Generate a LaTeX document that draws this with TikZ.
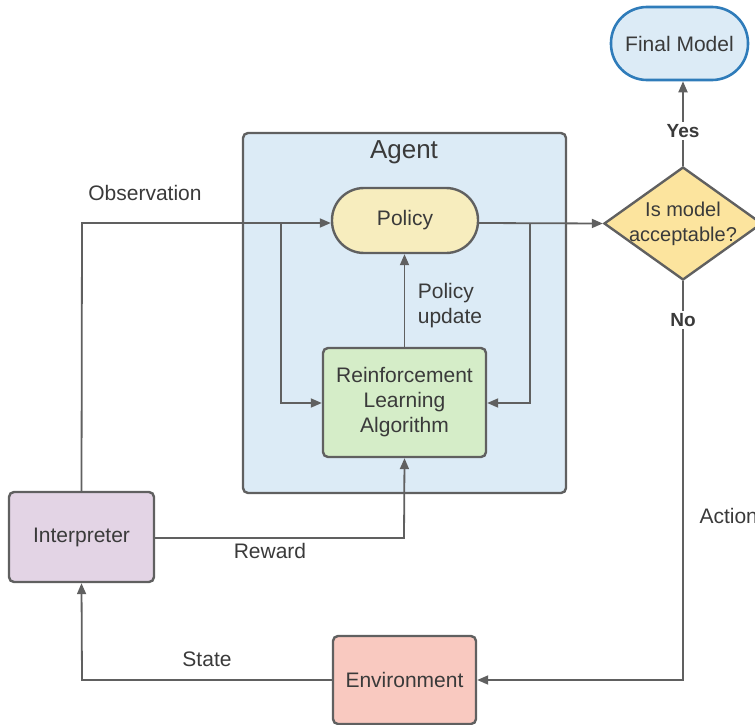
\documentclass[tikz,border=0pt]{standalone}
\usepackage{fontspec}
\setmainfont{Liberation Sans}
\usetikzlibrary{arrows.meta,shapes.geometric}
\definecolor{ln}{HTML}{606060}
\definecolor{tx}{HTML}{3A3A3A}
\definecolor{agentfill}{HTML}{DCEBF6}
\definecolor{polfill}{HTML}{F7EDBE}
\definecolor{rlfill}{HTML}{D5EDC8}
\definecolor{intfill}{HTML}{E3D4E5}
\definecolor{envfill}{HTML}{F9C9C0}
\definecolor{diafill}{HTML}{FCE49E}
\definecolor{finfill}{HTML}{DCEBF6}
\definecolor{finborder}{HTML}{2F7CBA}
\tikzset{
  x=1pt,y=-1pt,
  every node/.style={text=tx,font=\fontsize{21}{25}\selectfont},
  boxst/.style={draw=ln,line width=2.4pt,rounded corners=5pt,align=center,inner sep=0pt},
  conn/.style={draw=ln,line width=1.8pt,-{Triangle[length=11pt,width=9pt]}},
  lbl/.style={fill=white,inner sep=2pt},
}
\begin{document}
\begin{tikzpicture}
\useasboundingbox (0,0) rectangle (755,725);
% Agent container
\node[boxst,fill=agentfill,minimum width=323pt,minimum height=360pt] (agent) at (404.5,313) {};
\node[font=\fontsize{26}{30}\selectfont] (agentlbl) at (404,152) {Agent};
% nodes
\node[boxst,fill=polfill,rounded corners=32pt,minimum width=146pt,minimum height=65pt] (policy) at (405,220.5) {Policy};
\node[boxst,fill=rlfill,minimum width=163pt,minimum height=109pt] (rl) at (404.5,402.5) {Reinforcement\\Learning\\Algorithm};
\node[boxst,fill=intfill,minimum width=145pt,minimum height=90pt] (interp) at (81.5,537) {Interpreter};
\node[boxst,fill=envfill,minimum width=143pt,minimum height=88pt] (env) at (404.5,680) {Environment};
\node[draw=ln,line width=2.4pt,fill=diafill,diamond,minimum width=158pt,minimum height=113pt,inner sep=0pt] (dia) at (683,223.5) {};
\node[align=center,font=\fontsize{20}{25}\selectfont] (diatext) at (dia.center) {Is model\\acceptable?};
\node[draw=finborder,line width=2.6pt,fill=finfill,rounded corners=36pt,minimum width=137pt,minimum height=73pt] (final) at (679.5,43.5) {Final Model};
% junction coordinates
\coordinate (j1) at (281,223);
\coordinate (j2) at (530,223);
% connectors
\draw[conn] (interp.north) -- (82,223) -- (policy.west |- 0,223);
\draw[conn] (j1) |- (rl.west |- 0,403);
\draw[conn] (policy.east |- 0,223) -- (dia.west);
\draw[conn] (j2) |- (rl.east |- 0,403);
\draw[conn] (rl.north) -- (policy.south -| rl.north);
\draw[conn] (interp.east |- 0,538) -- (404,538) -- (rl.south);
\draw[conn] (env.west) -- (82,680) -- (interp.south);
\draw[conn] (dia.south) -- (683,680) -- (env.east);
\draw[conn] (dia.north) -- (final.south -| dia.north);
% labels
\node (obs) at (145,193) {Observation};
\node[align=left] (pu) at (450,305.5) {Policy\\update};
\node (rew) at (270,551) {Reward};
\node (state) at (207,659) {State};
\node[anchor=west] (act) at (696,516) {Action};
\node[lbl,font=\bfseries\fontsize{19}{23}\selectfont] (yes) at (683,131) {Yes};
\node[lbl,font=\bfseries\fontsize{19}{23}\selectfont] (no) at (683,320) {No};
\end{tikzpicture}
\end{document}
